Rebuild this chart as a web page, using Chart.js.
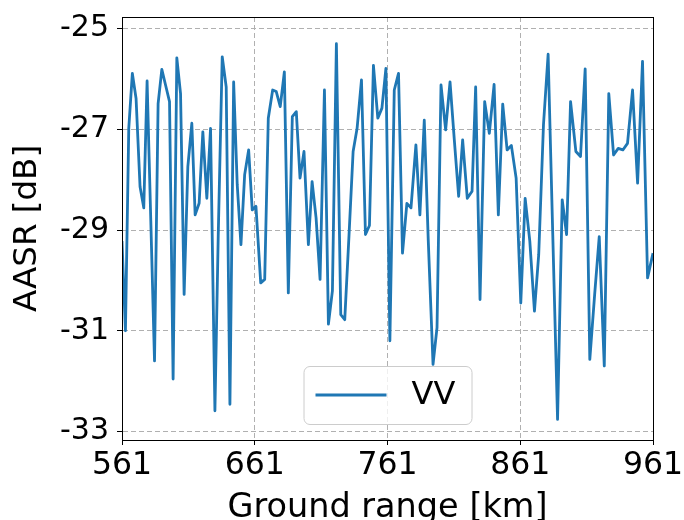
<!DOCTYPE html>
<html>
<head>
<meta charset="utf-8">
<script src="https://cdn.jsdelivr.net/npm/chart.js@4/dist/chart.umd.min.js"></script>
<style>
  html, body { margin: 0; padding: 0; background: #ffffff; }
  #wrap { width: 684px; height: 520px; position: relative; }
</style>
</head>
<body>
<div id="wrap"><canvas id="chart" width="684" height="520"></canvas></div>
<script>
// Ground range of each sample (km)
const groundRange = [
  561.0, 563.6, 566.1, 568.8, 571.6, 574.6, 577.4, 579.9, 582.7, 585.5,
  588.2, 591.0, 593.8, 596.8, 599.5, 602.3, 605.1, 607.8, 610.6, 613.6,
  616.1, 619.1, 621.9, 624.9, 627.7, 631.0, 633.5, 636.5, 639.5, 642.3,
  645.1, 647.8, 650.6, 653.4, 656.4, 659.1, 661.9, 665.5, 668.5, 671.2,
  674.5, 677.2, 680.2, 683.3, 686.3, 689.3, 692.3, 695.1, 698.1, 701.4,
  704.2, 707.2, 710.2, 713.5, 716.5, 719.5, 722.5, 725.8, 728.8, 731.9,
  735.1, 738.1, 741.4, 744.4, 747.4, 750.4, 753.7, 756.8, 759.8, 762.8,
  766.1, 769.3, 772.3, 775.6, 778.7, 782.4, 785.4, 788.7, 791.7, 795.3,
  798.3, 801.3, 804.8, 808.1, 811.3, 814.6, 817.6, 821.1, 824.7, 827.4,
  830.7, 834.2, 837.7, 841.3, 844.5, 847.8, 851.1, 854.3, 857.9, 861.4,
  864.7, 868.2, 871.7, 874.9, 878.5, 882.0, 885.5, 889.1, 892.6, 895.9,
  898.9, 902.9, 906.4, 909.9, 913.4, 917.0, 920.5, 924.3, 927.7, 931.3,
  934.8, 938.3, 941.8, 945.6, 949.4, 953.1, 956.9, 961.0
];

// AASR for VV polarisation (dB)
const aasrVV = [
  -29.22, -31.00, -26.98, -25.89, -26.39, -28.14, -28.56, -26.04, -28.82, -31.60,
  -26.49, -25.81, -26.12, -26.45, -31.96, -25.58, -26.29, -30.28, -27.74, -26.88,
  -28.70, -28.47, -27.05, -28.37, -26.98, -32.59, -29.10, -25.56, -26.16, -32.46,
  -26.06, -28.10, -29.29, -27.90, -27.41, -28.60, -28.53, -30.05, -29.98, -26.78,
  -26.22, -26.25, -26.55, -25.86, -30.25, -26.75, -26.65, -27.97, -27.44, -29.29,
  -28.04, -28.76, -29.98, -26.22, -30.87, -30.21, -25.30, -30.68, -30.78, -29.16,
  -27.44, -26.98, -26.02, -29.09, -28.91, -25.73, -26.78, -26.58, -25.79, -31.20,
  -26.22, -25.89, -29.46, -28.47, -28.56, -27.31, -28.70, -26.82, -29.20, -31.67,
  -30.94, -26.12, -27.01, -26.06, -27.20, -28.33, -27.21, -28.37, -28.23, -26.16,
  -30.38, -26.45, -27.08, -26.11, -28.70, -26.50, -27.41, -27.32, -27.97, -30.45,
  -28.37, -29.22, -30.61, -29.49, -26.91, -25.51, -29.10, -32.76, -28.40, -29.09,
  -26.45, -27.44, -27.54, -25.80, -31.57, -30.30, -29.13, -31.70, -26.29, -27.51,
  -27.38, -27.41, -27.28, -26.22, -28.07, -25.65, -29.95, -29.46
];

const seriesLabel = 'VV';
const xTicks = [561, 661, 761, 861, 961];
const yTicks = [-25, -27, -29, -31, -33];
const xRange = [561, 961];
const yRange = [-33.17, -24.77];

const FONT = "'DejaVu Sans', 'Liberation Sans', sans-serif";
const LINE_COLOR = '#1f77b4';

// Closed black frame around the plotting area
const frame = {
  id: 'frame',
  afterDatasetsDraw(chart) {
    const { ctx, chartArea: a } = chart;
    ctx.save();
    ctx.strokeStyle = '#000000';
    ctx.lineWidth = 1;
    ctx.strokeRect(Math.round(a.left) + 0.5, Math.round(a.top) + 0.5,
                   Math.round(a.right - a.left), Math.round(a.bottom - a.top));
    ctx.restore();
  }
};

// Legend box placed at the lower centre inside the plotting area
const innerLegend = {
  id: 'innerLegend',
  afterDraw(chart) {
    const { ctx, chartArea: a } = chart;
    const ds = chart.data.datasets[0];
    const w = 168, h = 58, r = 6;
    const cx = (a.left + a.right) / 2;
    const x0 = cx - w / 2, y0 = a.bottom - 16 - h;
    ctx.save();
    ctx.beginPath();
    ctx.roundRect(x0 + 0.5, y0 + 0.5, w, h, r);
    ctx.fillStyle = 'rgba(255,255,255,0.8)';
    ctx.fill();
    ctx.strokeStyle = '#cccccc';
    ctx.lineWidth = 1;
    ctx.stroke();
    const my = y0 + h / 2;
    ctx.beginPath();
    ctx.moveTo(x0 + 12, my);
    ctx.lineTo(x0 + 83, my);
    ctx.strokeStyle = ds.borderColor;
    ctx.lineWidth = ds.borderWidth;
    ctx.stroke();
    ctx.fillStyle = '#000000';
    ctx.font = '32px ' + FONT;
    ctx.textAlign = 'left';
    ctx.textBaseline = 'middle';
    ctx.fillText(ds.label, x0 + 108, my + 1);
    ctx.restore();
  }
};

new Chart(document.getElementById('chart'), {
  type: 'line',
  data: {
    datasets: [{
      label: seriesLabel,
      data: groundRange.map((g, i) => ({ x: g, y: aasrVV[i] })),
      borderColor: LINE_COLOR,
      backgroundColor: LINE_COLOR,
      borderWidth: 2.8,
      borderJoinStyle: 'round',
      pointRadius: 0,
      tension: 0,
      fill: false
    }]
  },
  options: {
    responsive: false,
    animation: false,
    events: [],
    layout: { padding: { left: 0, right: 31, top: 17, bottom: 0 } },
    plugins: {
      legend: { display: false },
      tooltip: { enabled: false }
    },
    scales: {
      x: {
        type: 'linear',
        min: xRange[0],
        max: xRange[1],
        afterBuildTicks(scale) { scale.ticks = xTicks.map(v => ({ value: v })); },
        afterFit(scale) {
          scale.height = 80;
          scale.paddingLeft = 0;
          scale.paddingRight = 0;
        },
        ticks: {
          color: '#000000',
          font: { family: FONT, size: 31.5 },
          padding: 2,
          maxRotation: 0,
          autoSkip: false,
          callback: v => String(v)
        },
        grid: {
          color: '#b0b0b0',
          lineWidth: 1,
          tickColor: '#000000',
          tickLength: 5,
          tickWidth: 1
        },
        border: { display: true, color: '#000000', width: 1, dash: [5, 3] },
        title: {
          display: true,
          text: 'Ground range [km]',
          color: '#000000',
          font: { family: FONT, size: 33.5, lineHeight: 0.7 },
          padding: { top: 0, bottom: 0 }
        }
      },
      y: {
        type: 'linear',
        min: yRange[0],
        max: yRange[1],
        afterBuildTicks(scale) { scale.ticks = yTicks.map(v => ({ value: v })); },
        afterFit(scale) {
          scale.width = 122;
          scale.paddingTop = 0;
          scale.paddingBottom = 0;
        },
        ticks: {
          color: '#000000',
          font: { family: FONT, size: 30 },
          padding: 8,
          autoSkip: false,
          callback: v => String(v)
        },
        grid: {
          color: '#b0b0b0',
          lineWidth: 1,
          tickColor: '#000000',
          tickLength: 5,
          tickWidth: 1
        },
        border: { display: true, color: '#000000', width: 1, dash: [5, 3] },
        title: {
          display: true,
          text: 'AASR [dB]',
          color: '#000000',
          font: { family: FONT, size: 32.5 },
          padding: { top: 8, bottom: 0 }
        }
      }
    }
  },
  plugins: [frame, innerLegend]
});
</script>
</body>
</html>
